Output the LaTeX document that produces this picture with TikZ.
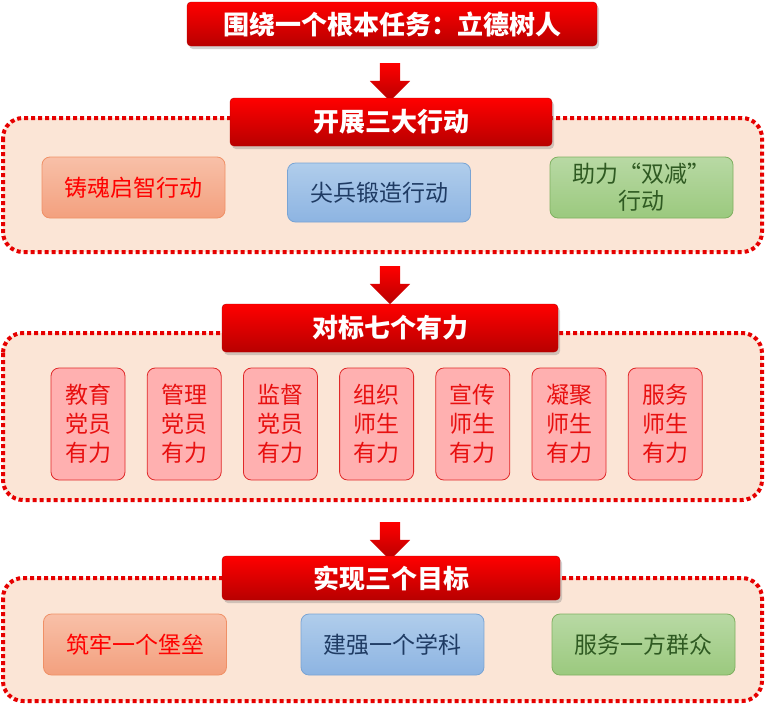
\documentclass[tikz,border=0pt]{standalone}
\usepackage{fontspec}
\usepackage{xcolor}
\usepackage{tikz}
\usetikzlibrary{shapes.arrows}
\usetikzlibrary{shadows}
\newfontfamily\cjk{Noto Sans CJK SC}
\definecolor{hdred}{HTML}{FF0000}
\definecolor{hddark}{HTML}{B80000}
\definecolor{dotred}{HTML}{E60000}
\definecolor{peach}{HTML}{FBE5D6}
\definecolor{ortop}{HTML}{F8C0A8}
\definecolor{orbot}{HTML}{F3A07E}
\definecolor{orline}{HTML}{F09066}
\definecolor{bltop}{HTML}{B0CDEB}
\definecolor{blbot}{HTML}{8DB4E2}
\definecolor{blline}{HTML}{79A4D4}
\definecolor{bltext}{HTML}{1F3B63}
\definecolor{grtop}{HTML}{B8D9A4}
\definecolor{grbot}{HTML}{9BC97E}
\definecolor{grline}{HTML}{7FB060}
\definecolor{grtext}{HTML}{2F5A22}
\definecolor{pkfill}{HTML}{FFB0B0}
\definecolor{pkline}{HTML}{E02828}
\definecolor{pktext}{HTML}{E81010}

\begin{document}
\begin{tikzpicture}[x=1pt,y=1pt,
    header/.style={rounded corners=4pt,top color=hdred,bottom color=hddark,
      draw=hddark,drop shadow={shadow xshift=2pt,shadow yshift=-3pt,opacity=0.35},
      text=white,font=\cjk\bfseries\fontsize{26}{30}\selectfont,inner sep=0pt},
    panel/.style={draw=dotred,line width=4pt,dash pattern=on 4pt off 3pt,
      fill=peach,rounded corners=20pt},
    bigarrow/.style={single arrow,shape border rotate=270,top color=hdred,
      bottom color=hddark,draw=none,minimum width=40pt,minimum height=38pt,
      single arrow head extend=10pt,single arrow head indent=0pt,inner sep=10pt},
    item/.style={rounded corners=8pt,line width=0.8pt,minimum width=183pt,
      minimum height=61pt,align=center,font=\cjk\fontsize{23}{27}\selectfont},
    orangebox/.style={item,top color=ortop,bottom color=orbot,draw=orline,text=hdred},
    bluebox/.style={item,top color=bltop,bottom color=blbot,draw=blline,text=bltext},
    greenbox/.style={item,top color=grtop,bottom color=grbot,draw=grline,text=grtext},
    pinkbox/.style={rounded corners=8pt,line width=0.8pt,fill=pkfill,draw=pkline,
      text=pktext,minimum width=74pt,minimum height=112pt,align=center,
      font=\cjk\fontsize{23}{29}\selectfont}]
    \useasboundingbox (0,0) rectangle (765,-705);
    \draw[panel] (3,-118) rectangle (762,-252);
    \draw[panel] (3,-333) rectangle (762,-500);
    \draw[panel] (3,-578) rectangle (762,-701);
    \node[header,minimum width=410pt,minimum height=44pt] (goal) at (392,-24) {围绕一个根本任务：立德树人};
    \node[bigarrow] (arrA) at (390,-77) {};
    \node[header,minimum width=322pt,minimum height=48pt] (act) at (391,-122) {开展三大行动};
    \node[orangebox] (act1) at (133.5,-187.5) {铸魂启智行动};
    \node[bluebox,minimum height=59pt] (act2) at (379,-192.5) {尖兵锻造行动};
    \node[greenbox] (act3) at (641.5,-187.5) {助力“双减”\\行动};
    \node[bigarrow] (arrB) at (390,-280) {};
    \node[header,minimum width=336pt,minimum height=48pt] (bench) at (390,-328) {对标七个有力};
    \foreach \i/\t in {0/教育\\党员\\有力,1/管理\\党员\\有力,2/监督\\党员\\有力,
      3/组织\\师生\\有力,4/宣传\\师生\\有力,5/凝聚\\师生\\有力,6/服务\\师生\\有力}{
      \node[pinkbox] (bench\i) at ({88+96.2*\i},-424) {\t};
    };
    \node[bigarrow] (arrC) at (390,-536) {};
    \node[header,minimum width=338pt,minimum height=44pt] (aim) at (391,-578) {实现三个目标};
    \node[orangebox] (aim1) at (135,-644.5) {筑牢一个堡垒};
    \node[bluebox] (aim2) at (392.5,-644.5) {建强一个学科};
    \node[greenbox] (aim3) at (643.5,-644.5) {服务一方群众};
  \end{tikzpicture}
\end{document}
